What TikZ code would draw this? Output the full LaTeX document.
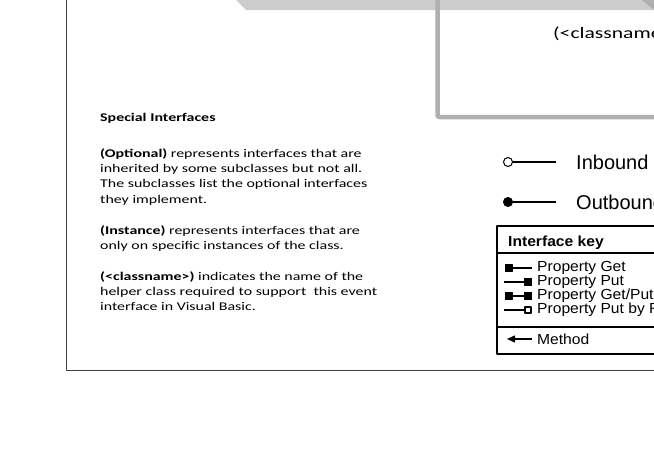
\documentclass[tikz,border=0pt]{standalone}
\usepackage{fontspec}
\setmainfont{Liberation Sans}
\newfontfamily\calib[FakeStretch=1.35]{Carlito}
\newfontfamily\keyfont[FakeStretch=1.07]{Liberation Sans}
\usetikzlibrary{calc}
\usetikzlibrary{arrows.meta}

\begin{document}
\begin{tikzpicture}[x=1pt, y=-1pt, % pixel units, y runs downwards
                    line join=round, % corners of the key box
                    every node/.style = {inner sep=0pt, anchor=west},
                    note/.style = {font=\calib\fontsize{11.8}{15.4}\selectfont, align=left, anchor=base west}, % base = last line
                    keytext/.style = {font=\keyfont\fontsize{14.6}{14}\selectfont},
                    keyline/.style = {line width=1.3pt},
                    sq/.style = {draw, fill=black, line width=0.6pt, minimum size=7pt, anchor=center},
                    opensq/.style = {draw, fill=white, line width=1.1pt, minimum size=6pt, anchor=center}
                   ]
  \useasboundingbox (0,0) rectangle (654,466);
  \clip (0,0) rectangle (654,466);
  \fill[gray!40] (236,0) -- (654,0) -- (654,10) -- (246,10) -- cycle;
  \fill[gray!62] (642,0) -- (654,0) -- (654,10) -- cycle;
  \draw[gray!62, line width=4.5pt, rounded corners=2pt] (437.5,-10) -- (437.5,117) -- (670,117);
  \node (cls) at (553,34) [font=\calib\fontsize{16}{20}\selectfont] {(<classname>)};
  \draw[black!75, line width=1pt] (66,-10) -- (66,370) -- (670,370); % frame

  \node (head) at (100,121) [note, font=\calib\bfseries\fontsize{11.8}{15.4}\selectfont] {Special Interfaces};
  \node (opt) at (100,203.2) [note] {\textbf{(Optional)} represents interfaces that are\\
        inherited by some subclasses but not all.\\
        The subclasses list the optional interfaces\\
        they implement.};
  \node (inst) at (100,249.4) [note] {\textbf{(Instance)} represents interfaces that are\\
        only on specific instances of the class.};
  \node (helper) at (100,310.8) [note] {\textbf{(<classname>)} indicates the name of the\\
        helper class required to support\ \ this event\\
        interface in Visual Basic.};

  \node (cin) at (508,162) [circle, draw, fill=white, line width=1pt, minimum size=9pt, anchor=center] {};
  \node (inb) at (576,162) [font=\fontsize{20}{20}\selectfont] {Inbound};
  \draw[line width=1.3pt] (cin) -- ([xshift=-20pt]inb.west);
  \node (cout) at (508,202) [circle, draw, fill=black, line width=1pt, minimum size=9pt, anchor=center] {};
  \node (outb) at (576,202) [font=\fontsize{20}{20}\selectfont] {Outbound};
  \draw[line width=1.3pt] (cout) -- ([xshift=-20pt]outb.west);

  \draw[line width=1.5pt] (670,226) -- (497,226) -- (497,354) -- (670,354);
  \draw[line width=1.2pt] (497,253) -- (670,253) (497,327) -- (670,327);
  \node (keyhd) at (508,246) [anchor=base west, font=\keyfont\bfseries\fontsize{14.6}{14}\selectfont] {Interface key};
  \node (pget) at (537,268) [keytext] {Property Get};
  \node (pput) at (537,282) [keytext] {Property Put};
  \node (pgetput) at (537,296) [keytext] {Property Get/Put};
  \node (pputref) at (537,310) [keytext] {Property Put by Reference};
  \node (meth) at (537,339) [keytext] {Method};
  \draw[keyline] ([xshift=-28.5pt]pget.west) node[sq] {} -- ([xshift=-5pt]pget.west);
  \draw[keyline] ([xshift=-33pt]pput.west) -- ([xshift=-9pt]pput.west) node[sq] {};
  \draw[keyline] ([xshift=-28.5pt]pgetput.west) node[sq] {} -- ([xshift=-9pt]pgetput.west) node[sq] {};
  \draw[keyline] ([xshift=-33pt]pputref.west) -- ([xshift=-9pt]pputref.west) node[opensq] {};
  \draw[keyline, -{Triangle[length=8pt, width=7pt]}] ([xshift=-5pt]meth.west) -- ([xshift=-30pt]meth.west);
\end{tikzpicture}
\end{document}
